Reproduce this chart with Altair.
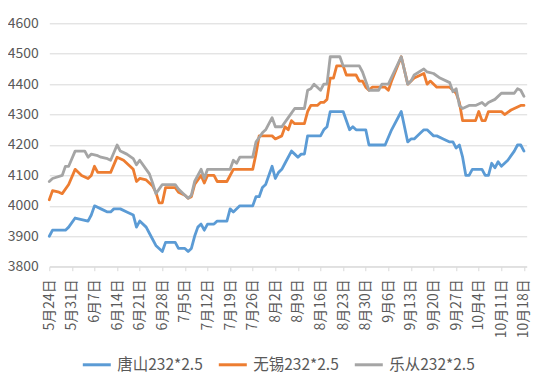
import json
import altair as alt
import pandas as pd

# x tick labels (one per week, day offsets 0, 7, ... 147 from 5月24日)
x_labels = ["5月24日", "5月31日", "6月7日", "6月14日", "6月21日", "6月28日", "7月5日",
            "7月12日", "7月19日", "7月26日", "8月2日", "8月9日", "8月16日", "8月23日",
            "8月30日", "9月6日", "9月13日", "9月20日", "9月27日", "10月4日", "10月11日",
            "10月18日"]
y_ticks = [3800, 3900, 4000, 4100, 4200, 4300, 4400, 4500, 4600]

series_names = ["唐山232*2.5", "无锡232*2.5", "乐从232*2.5"]
series_colors = ["#5B9BD5", "#ED7D31", "#A5A5A5"]

# day offsets (days since 5月24日) and prices
tangshan_days = [0, 1, 5, 6, 8, 10, 12, 13, 14, 16, 18, 19, 20, 22, 24, 25, 26, 27, 28, 30, 31,
                 33, 34, 35, 36, 39, 40, 42, 43, 44, 45, 46, 47, 48, 49, 51, 52, 55, 56, 57, 59,
                 63, 64, 65, 66, 67, 69, 70, 71, 72, 73, 75, 76, 77, 78, 79, 80, 84, 85, 86, 87,
                 91, 93, 94, 95, 98, 99, 104, 106, 109, 111, 112, 113, 115, 116, 117, 119, 120,
                 122, 124, 125, 126, 127, 128, 129, 130, 131, 134, 135, 136, 137, 138, 139, 140,
                 142, 144, 145, 146, 147]
tangshan_vals = [3900, 3920, 3920, 3930, 3960, 3955, 3950, 3970, 4000, 3990, 3980, 3980, 3990,
                 3990, 3980, 3975, 3970, 3930, 3950, 3930, 3910, 3870, 3860, 3850, 3880, 3880,
                 3860, 3860, 3850, 3860, 3900, 3930, 3940, 3920, 3940, 3940, 3950, 3950, 3990,
                 3980, 4000, 4000, 4030, 4030, 4060, 4070, 4130, 4090, 4110, 4120, 4140, 4180,
                 4170, 4160, 4170, 4170, 4230, 4230, 4250, 4260, 4310, 4310, 4250, 4260, 4250,
                 4250, 4200, 4200, 4250, 4310, 4210, 4220, 4220, 4240, 4250, 4250, 4230, 4230,
                 4220, 4210, 4210, 4190, 4200, 4160, 4100, 4100, 4120, 4120, 4100, 4100, 4140,
                 4125, 4145, 4130, 4150, 4180, 4200, 4200, 4180]

wuxi_days = [0, 1, 3, 4, 6, 8, 10, 12, 13, 14, 15, 19, 21, 23, 25, 26, 27, 28, 30, 32, 33, 34,
             35, 36, 39, 40, 42, 43, 44, 45, 46, 47, 48, 49, 51, 52, 55, 57, 63, 64, 65, 69, 70,
             72, 73, 74, 75, 76, 79, 80, 81, 83, 84, 85, 86, 87, 88, 89, 91, 92, 95, 96, 97, 98,
             99, 100, 104, 105, 106, 109, 111, 113, 116, 117, 118, 120, 124, 125, 126, 127, 128,
             132, 133, 134, 135, 136, 140, 141, 143, 146, 147]
wuxi_vals = [4020, 4050, 4045, 4040, 4070, 4120, 4100, 4090, 4100, 4130, 4110, 4110, 4160, 4150,
             4130, 4120, 4080, 4090, 4085, 4065, 4045, 4010, 4010, 4060, 4060, 4045, 4035, 4025,
             4030, 4070, 4085, 4100, 4075, 4100, 4100, 4080, 4080, 4120, 4120, 4170, 4230, 4230,
             4220, 4230, 4260, 4250, 4280, 4270, 4270, 4310, 4330, 4330, 4340, 4340, 4350, 4420,
             4420, 4460, 4460, 4430, 4430, 4410, 4410, 4390, 4380, 4390, 4390, 4380, 4410, 4490,
             4400, 4420, 4435, 4400, 4410, 4390, 4390, 4380, 4370, 4340, 4280, 4280, 4310, 4280,
             4280, 4310, 4310, 4300, 4315, 4330, 4330]

lecong_days = [0, 1, 4, 5, 6, 8, 11, 12, 13, 15, 16, 18, 19, 21, 22, 24, 26, 27, 28, 30, 31, 32,
               33, 34, 35, 39, 40, 42, 43, 44, 45, 47, 48, 49, 56, 57, 58, 59, 63, 64, 66, 67, 69,
               70, 72, 74, 76, 79, 80, 81, 82, 84, 85, 86, 87, 90, 91, 96, 97, 99, 102, 103, 105,
               109, 111, 112, 113, 116, 117, 119, 121, 124, 125, 126, 127, 128, 130, 132, 134,
               135, 136, 138, 140, 144, 145, 146, 147]
lecong_vals = [4080, 4090, 4100, 4130, 4130, 4180, 4180, 4160, 4170, 4165, 4160, 4155, 4150,
               4200, 4180, 4170, 4155, 4135, 4150, 4120, 4105, 4075, 4040, 4055, 4070, 4070,
               4055, 4035, 4025, 4035, 4080, 4120, 4090, 4120, 4120, 4150, 4140, 4160, 4160,
               4210, 4240, 4250, 4290, 4260, 4260, 4290, 4320, 4320, 4380, 4385, 4400, 4380,
               4400, 4400, 4490, 4490, 4460, 4460, 4440, 4380, 4380, 4400, 4400, 4490, 4400,
               4410, 4430, 4450, 4440, 4435, 4420, 4405, 4375, 4385, 4330, 4320, 4330, 4330,
               4340, 4330, 4340, 4350, 4370, 4370, 4385, 4380, 4360]

frames = []
for name, days, vals in [(series_names[0], tangshan_days, tangshan_vals),
                         (series_names[1], wuxi_days, wuxi_vals),
                         (series_names[2], lecong_days, lecong_vals)]:
    frames.append(pd.DataFrame({"day": days, "price": vals, "series": name}))
df = pd.concat(frames, ignore_index=True)

FONT = "Noto Sans CJK SC"
TXT = "#595959"
GRID = "#D9D9D9"

label_expr = "%s[round(datum.value / 7)]" % json.dumps(x_labels, ensure_ascii=False)

chart = alt.Chart(df).mark_line(strokeWidth=2.8, strokeJoin="round", strokeCap="round").encode(
    x=alt.X("day:Q",
            scale=alt.Scale(domain=[0, 147.84], nice=False, zero=False),
            axis=alt.Axis(values=[7 * i for i in range(len(x_labels))], labelExpr=label_expr,
                          title=None, grid=False, domainColor=GRID, tickColor=GRID,
                          tickSize=4, labelAngle=-90, labelAlign="right",
                          labelBaseline="middle", labelPadding=8, labelFont=FONT,
                          labelFontSize=14, labelColor=TXT, labelOverlap=False)),
    y=alt.Y("price:Q",
            scale=alt.Scale(domain=[3800, 4600], nice=False, zero=False),
            axis=alt.Axis(values=y_ticks, format="d", title=None, domain=False, ticks=False,
                          gridColor=GRID, gridWidth=1, labelPadding=11, labelFont=FONT,
                          labelFontSize=14, labelColor=TXT)),
    color=alt.Color("series:N",
                    scale=alt.Scale(domain=series_names, range=series_colors),
                    legend=alt.Legend(title=None, orient="none", direction="horizontal",
                                      legendX=32, legendY=326, symbolType="stroke",
                                      symbolSize=784, symbolStrokeWidth=3,
                                      labelFont=FONT, labelFontSize=15.5, labelColor=TXT,
                                      labelOffset=5, columnPadding=9)),
    order="day:Q",
).properties(
    width=477.4, height=243.4, autosize="none",
    padding={"left": 41.3, "top": 15.3, "right": 8, "bottom": 108},
).configure_view(stroke=None)

chart.save("out.html", embed_options={"renderer": "svg", "actions": False})
